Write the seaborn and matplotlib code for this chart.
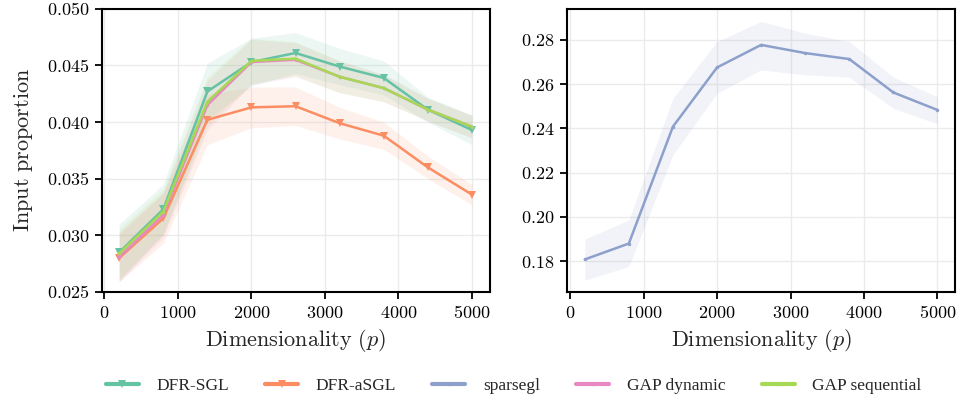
import numpy as np
import pandas as pd
import matplotlib
matplotlib.use("Agg")
import matplotlib.pyplot as plt
from matplotlib.lines import Line2D
from matplotlib.ticker import FuncFormatter
import seaborn as sns

# dimensionality grid
p_values = [200, 800, 1400, 2000, 2600, 3200, 3800, 4400, 5000]

# left panel: mean input proportion and band half-width
dfr_sgl = [0.0285, 0.0323, 0.0427, 0.0453, 0.0461, 0.0449, 0.0439, 0.0411, 0.0393]
dfr_sgl_err = [0.0025, 0.0022, 0.0025, 0.0021, 0.0018, 0.0016, 0.0015, 0.0011, 0.0013]
dfr_asgl = [0.0280, 0.0315, 0.0402, 0.0413, 0.0414, 0.0399, 0.0388, 0.0360, 0.0336]
dfr_asgl_err = [0.0021, 0.0022, 0.0022, 0.0018, 0.0017, 0.0014, 0.0012, 0.0010, 0.0009]
gap_dynamic = [0.0281, 0.0318, 0.0415, 0.0453, 0.0455, 0.0440, 0.0430, 0.0411, 0.0396]
gap_dynamic_err = [0.0022, 0.0020, 0.0022, 0.0020, 0.0015, 0.0014, 0.0012, 0.0010, 0.0010]
gap_sequential = [0.0284, 0.0321, 0.0418, 0.0454, 0.0456, 0.0440, 0.0430, 0.0411, 0.0396]
gap_sequential_err = [0.0022, 0.0020, 0.0022, 0.0020, 0.0015, 0.0014, 0.0012, 0.0010, 0.0010]

# right panel: sparsegl with lower / upper band
sparsegl = [0.1808, 0.1880, 0.2408, 0.2675, 0.2777, 0.2740, 0.2713, 0.2562, 0.2483]
sparsegl_lo = [0.1714, 0.1777, 0.2280, 0.2559, 0.2664, 0.2642, 0.2631, 0.2491, 0.2420]
sparsegl_hi = [0.1900, 0.1986, 0.2536, 0.2792, 0.2883, 0.2830, 0.2792, 0.2631, 0.2543]

method_names = ["DFR-SGL", "DFR-aSGL", "sparsegl", "GAP dynamic", "GAP sequential"]

sns.set_theme(style="whitegrid")
plt.rcParams.update({
    "font.family": "serif",
    "font.serif": ["Liberation Serif", "DejaVu Serif"],
    "mathtext.fontset": "cm",
    "axes.edgecolor": "black",
    "axes.linewidth": 1.5,
    "grid.color": "#ebebeb",
    "xtick.bottom": True,
    "ytick.left": True,
    "xtick.major.size": 5,
    "ytick.major.size": 5,
    "xtick.major.width": 1.3,
    "ytick.major.width": 1.3,
    "xtick.color": "black",
    "ytick.color": "black",
})

pal = sns.color_palette("Set2", 5)
colors = dict(zip(method_names, pal))

fig, (ax1, ax2) = plt.subplots(1, 2, figsize=(9.58, 4.0), dpi=100)
fig.subplots_adjust(left=0.106, right=0.997, top=0.978, bottom=0.27, wspace=0.2)

left_series = [
    ("DFR-SGL", dfr_sgl, dfr_sgl_err, "v", 6),
    ("DFR-aSGL", dfr_asgl, dfr_asgl_err, "v", 6),
    ("GAP dynamic", gap_dynamic, gap_dynamic_err, "o", 2.5),
    ("GAP sequential", gap_sequential, gap_sequential_err, "o", 2.5),
]
for name, y, err, mk, ms in left_series:
    y = np.array(y)
    err = np.array(err)
    ax1.fill_between(p_values, y - err, y + err, color=colors[name], alpha=0.12, lw=0)
for name, y, err, mk, ms in left_series:
    df = pd.DataFrame({"p": p_values, "v": y})
    sns.lineplot(data=df, x="p", y="v", ax=ax1, color=colors[name], marker=mk,
                 markersize=ms, markeredgewidth=0, lw=1.8)

ax2.fill_between(p_values, sparsegl_lo, sparsegl_hi, color=colors["sparsegl"], alpha=0.12, lw=0)
df = pd.DataFrame({"p": p_values, "v": sparsegl})
sns.lineplot(data=df, x="p", y="v", ax=ax2, color=colors["sparsegl"], marker="o",
             markersize=2.5, markeredgewidth=0, lw=1.8)

ax1.set_ylim(0.025, 0.050)
ax1.set_yticks([0.025, 0.030, 0.035, 0.040, 0.045, 0.050])
ax1.yaxis.set_major_formatter(FuncFormatter(lambda v, _: f"${v:.3f}$"))
ax2.set_ylim(0.1661, 0.294)
ax2.set_yticks([0.18, 0.20, 0.22, 0.24, 0.26, 0.28])
ax2.yaxis.set_major_formatter(FuncFormatter(lambda v, _: f"${v:.2f}$"))

for ax in (ax1, ax2):
    ax.set_xticks([0, 1000, 2000, 3000, 4000, 5000])
    ax.xaxis.set_major_formatter(FuncFormatter(lambda v, _: f"${int(v)}$"))
    ax.tick_params(labelsize=13, pad=4)
    ax.set_xlabel(r"$\mathrm{Dimensionality}\ (p)$", fontsize=16)
    ax.set_ylabel("")
ax1.set_ylabel(r"$\mathrm{Input\ proportion}$", fontsize=16, labelpad=8)

handles = []
for name in method_names:
    mk, ms = ("v", 5.5) if name.startswith("DFR") else ("o", 2.5)
    handles.append(Line2D([], [], color=colors[name], lw=3, marker=mk,
                          markersize=ms, markeredgewidth=0))
fig.legend(handles, method_names, loc="center", bbox_to_anchor=(0.536, 0.035),
           ncol=5, frameon=False, fontsize=12.5, handlelength=1.9,
           handletextpad=1.0, columnspacing=2.1)

fig.savefig("out.png", dpi=100)
